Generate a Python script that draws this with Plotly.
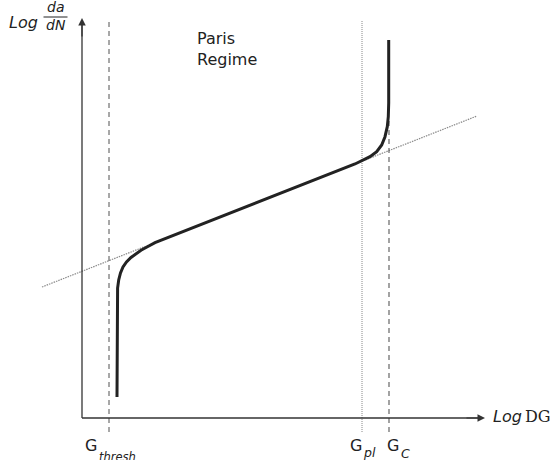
import plotly.graph_objects as go

# ---- data (schematic units: x = log dG, y = log da/dN) ----
g_names = ["G", "G", "G"]
g_subs = ["thresh", "pl", "C"]
g_positions = [0.27, 2.80, 3.07]          # G_thresh, G_pl, G_C
g_line_tops = [3.96, 3.98, 2.98]
g_line_bottom = -0.14

paris_x = [-0.40, 3.95]
paris_y = [1.31, 3.02]

curve_x = [0.35, 0.35, 0.356, 0.367, 0.385, 0.41, 0.445, 0.49, 0.54, 0.59, 0.65, 0.73,
           2.73, 2.80, 2.88, 2.947, 2.997, 3.03, 3.053, 3.063, 3.067, 3.067]
curve_y = [0.21, 1.20, 1.30, 1.38, 1.45, 1.51, 1.56, 1.605, 1.645, 1.678, 1.71, 1.754,
           2.54, 2.574, 2.613, 2.663, 2.73, 2.813, 2.913, 3.013, 3.15, 3.78]

x_axis_end = 4.03
y_axis_end = 4.00

FONT = "DejaVu Sans"
INK = "#222222"

fig = go.Figure()

# Paris-law extension (dotted)
fig.add_trace(go.Scatter(x=paris_x, y=paris_y, mode="lines",
                         line=dict(color="#8a8a8a", width=1.2, dash="1.5px,1px"),
                         hoverinfo="skip"))

# vertical reference lines
styles = [dict(color="#505050", width=1, dash="5px,4px"),
          dict(color="#888888", width=1, dash="1px,1px"),
          dict(color="#666666", width=1.2, dash="5px,4px")]
for gx, top, st in zip(g_positions, g_line_tops, styles):
    fig.add_trace(go.Scatter(x=[gx, gx], y=[g_line_bottom, top], mode="lines",
                             line=st, hoverinfo="skip"))

# crack-growth curve
fig.add_trace(go.Scatter(x=curve_x, y=curve_y, mode="lines",
                         line=dict(color=INK, width=3),
                         hoverinfo="skip"))

# axes
fig.add_trace(go.Scatter(x=[0, x_axis_end - 0.05], y=[0, 0], mode="lines",
                         line=dict(color="#333333", width=1.3), hoverinfo="skip"))
fig.add_trace(go.Scatter(x=[0, 0], y=[0, y_axis_end - 0.05], mode="lines",
                         line=dict(color="#333333", width=1.3), hoverinfo="skip"))

# fraction bar of the y label
fig.add_trace(go.Scatter(x=[-0.385, -0.145], y=[4.01, 4.01], mode="lines",
                         line=dict(color=INK, width=1), hoverinfo="skip"))

ann = []
# arrow heads
ann.append(dict(x=x_axis_end, y=0, ax=x_axis_end - 0.2, ay=0, xref="x", yref="y",
                axref="x", ayref="y", text="", showarrow=True, arrowhead=2,
                arrowsize=1.25, arrowwidth=1.2, arrowcolor="#333333", standoff=0))
ann.append(dict(x=0, y=y_axis_end, ax=0, ay=y_axis_end - 0.2, xref="x", yref="y",
                axref="x", ayref="y", text="", showarrow=True, arrowhead=2,
                arrowsize=1.25, arrowwidth=1.2, arrowcolor="#333333", standoff=0))

# y label: Log da/dN
ann.append(dict(x=-0.42, y=3.955, xref="x", yref="y", text="<i>Log</i>",
                showarrow=False, xanchor="right", yanchor="middle",
                font=dict(family=FONT, size=16, color=INK)))
ann.append(dict(x=-0.262, y=4.112, xref="x", yref="y", text="<i>da</i>",
                showarrow=False, xanchor="center", yanchor="middle",
                font=dict(family=FONT, size=14, color=INK)))
ann.append(dict(x=-0.257, y=3.935, xref="x", yref="y", text="<i>dN</i>",
                showarrow=False, xanchor="center", yanchor="middle",
                font=dict(family=FONT, size=14, color=INK)))

# x label: Log DG
ann.append(dict(x=4.09, y=0.015, xref="x", yref="y", text="<i>Log</i>",
                showarrow=False, xanchor="left", yanchor="middle",
                font=dict(family=FONT, size=16, color=INK)))
ann.append(dict(x=4.405, y=0.015, xref="x", yref="y", text="DG",
                showarrow=False, xanchor="left", yanchor="middle",
                font=dict(family="DejaVu Serif", size=16, color=INK)))

# Paris Regime
ann.append(dict(x=1.13, y=3.91, xref="x", yref="y", text="Paris<br>Regime",
                showarrow=False, xanchor="left", yanchor="top", align="left",
                font=dict(family=FONT, size=16, color=INK)))

# G labels
g_label_x = [0.005, 2.655, 3.025]
sub_label_x = [0.145, 2.79, 3.165]
sub_label_y = [-0.385, -0.348, -0.358]
sub_sizes = [11.5, 12.5, 12.5]
for name, sub, lx, sx, sy, ss in zip(g_names, g_subs, g_label_x, sub_label_x,
                                     sub_label_y, sub_sizes):
    ann.append(dict(x=lx, y=-0.275, xref="x", yref="y", text=name,
                    showarrow=False, xanchor="left", yanchor="middle",
                    font=dict(family=FONT, size=16, color=INK)))
    ann.append(dict(x=sx, y=sy, xref="x", yref="y", text="<i>" + sub + "</i>",
                    showarrow=False, xanchor="left", yanchor="middle",
                    font=dict(family=FONT, size=ss, color=INK)))

fig.update_layout(
    width=554, height=460, margin=dict(l=0, r=0, t=0, b=0),
    paper_bgcolor="white", plot_bgcolor="white", showlegend=False,
    annotations=ann,
    xaxis=dict(range=[-0.82, 4.72], visible=False, fixedrange=True),
    yaxis=dict(range=[-0.42, 4.18], visible=False, fixedrange=True),
)

fig.write_html("out.html", config={"displayModeBar": False},
               post_script="document.body.style.margin='0px';document.body.style.overflow='hidden';")
